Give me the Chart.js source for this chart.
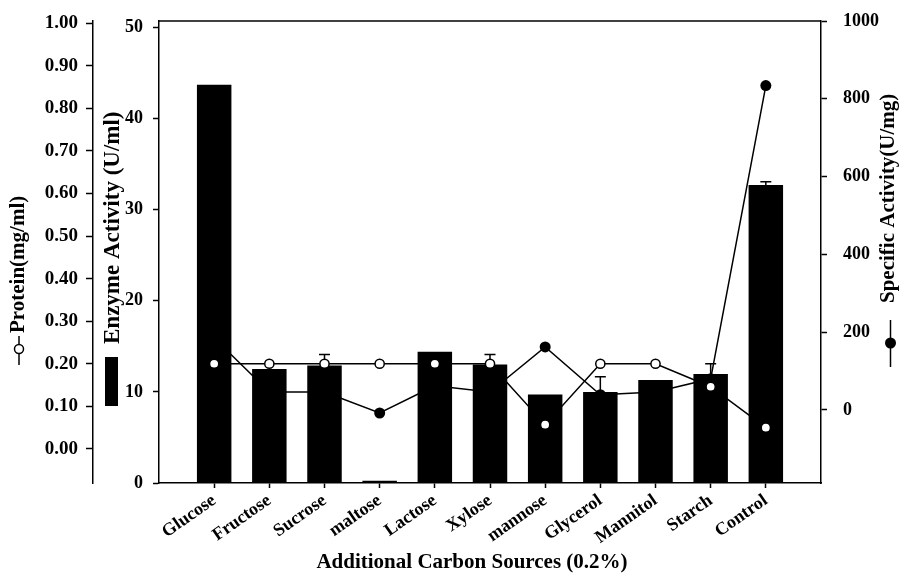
<!DOCTYPE html>
<html>
<head>
<meta charset="utf-8">
<title>Effect of additional carbon sources</title>
<script src="https://cdn.jsdelivr.net/npm/chart.js@4.4.1/dist/chart.umd.min.js"></script>
<style>
  html, body { margin: 0; padding: 0; background: #fff; }
  canvas { display: block; }
</style>
</head>
<body>
<canvas id="chart" width="904" height="576"></canvas>
<script>
// Carbon sources added to the medium at 0.2%
const categories = ['Glucose', 'Fructose', 'Sucrose', 'maltose', 'Lactose', 'Xylose',
                    'mannose', 'Glycerol', 'Mannitol', 'Starch', 'Control'];

// Enzyme activity (U/ml), drawn as bars, with upper error
const enzymeActivity = [43.7, 12.5, 12.9, 0.25, 14.4, 13.0, 9.7, 10.0, 11.3, 11.95, 32.7];
const enzymeError    = [0,    0,    1.2,  0,    0,    1.1,  0,   1.65, 0,    1.15,  0.35];

// Protein (mg/ml), open circles
const protein = [0.20, 0.20, 0.20, 0.20, 0.20, 0.20, 0.057, 0.20, 0.20, 0.146, 0.05];

// Specific activity (U/mg), filled circles
const specificActivity = [185, 46, 46, -8, 62, 46, 162, 39, 46, 80, 834];

// Tick values of the three value axes
const proteinTicks  = [0, 0.1, 0.2, 0.3, 0.4, 0.5, 0.6, 0.7, 0.8, 0.9, 1.0];
const enzymeTicks   = [0, 10, 20, 30, 40, 50];
const specificTicks = [0, 200, 400, 600, 800, 1000];

const SERIF = '"Liberation Serif", "Times New Roman", serif';

// one empty slot on each side of the categories gives the wide side margins
const pad = arr => [null, ...arr, null];
const xLabels = ['', ...categories, ''];

function axisStyle(tickLength, padding, width, fontSize, ticks, format) {
  return {
    grid: { drawOnChartArea: false, drawTicks: true, tickLength: tickLength,
            tickWidth: 1.5, tickColor: '#000' },
    border: { display: true, color: '#000', width: 1.5 },
    ticks: { color: '#000', padding: padding, font: { family: SERIF, size: fontSize, weight: 'bold' },
             callback: format },
    afterBuildTicks: scale => { scale.ticks = ticks.map(v => ({ value: v })); },
    afterFit: scale => {
      scale.width = width;
      scale.paddingTop = 0;
      scale.paddingBottom = 0;
    }
  };
}

const decorations = {
  id: 'decorations',
  beforeDraw(chart) {
    const ctx = chart.ctx;
    ctx.save();
    ctx.fillStyle = '#fff';
    ctx.fillRect(0, 0, chart.width, chart.height);
    ctx.restore();
  },
  afterDatasetDraw(chart, args) {
    if (args.index !== 0) return;
    // error bars above the enzyme activity bars
    const ctx = chart.ctx;
    const yE = chart.scales.yE;
    const bars = chart.getDatasetMeta(0).data;
    ctx.save();
    ctx.strokeStyle = '#000';
    ctx.lineWidth = 1.5;
    enzymeError.forEach((err, i) => {
      if (!err) return;
      const x = bars[i + 1].x;
      const y0 = yE.getPixelForValue(enzymeActivity[i]);
      const y1 = yE.getPixelForValue(enzymeActivity[i] + err);
      ctx.beginPath();
      ctx.moveTo(x, y0); ctx.lineTo(x, y1);
      ctx.moveTo(x - 5.5, y1); ctx.lineTo(x + 5.5, y1);
      ctx.stroke();
    });
    ctx.restore();
  },
  afterDraw(chart) {
    const ctx = chart.ctx;
    const a = chart.chartArea;
    ctx.save();
    ctx.strokeStyle = '#000';
    ctx.fillStyle = '#000';
    ctx.lineWidth = 1.5;

    // top frame line
    ctx.beginPath();
    ctx.moveTo(a.left, a.top);
    ctx.lineTo(a.right, a.top);
    ctx.stroke();

    // vertical axis titles, reading upwards
    const vText = (text, size, x, yStart) => {
      ctx.save();
      ctx.font = 'bold ' + size + 'px ' + SERIF;
      ctx.translate(x, yStart);
      ctx.rotate(-Math.PI / 2);
      ctx.textAlign = 'left';
      ctx.textBaseline = 'middle';
      ctx.fillText(text, 0, 0);
      ctx.restore();
    };
    vText('Protein(mg/ml)', 21, 19, 333);
    vText('Enzyme Activity (U/ml)', 23, 113, 344);
    vText('Specific Activity(U/mg)', 21, 889, 303);

    // series keys under the titles
    ctx.beginPath();
    ctx.moveTo(19, 336); ctx.lineTo(19, 365);
    ctx.stroke();
    ctx.beginPath();
    ctx.arc(19, 349, 4.5, 0, Math.PI * 2);
    ctx.fillStyle = '#fff';
    ctx.fill();
    ctx.stroke();
    ctx.fillStyle = '#000';

    ctx.fillRect(105, 357, 13, 49);

    ctx.beginPath();
    ctx.moveTo(890.5, 320); ctx.lineTo(890.5, 367);
    ctx.stroke();
    ctx.beginPath();
    ctx.arc(890.5, 343, 5.5, 0, Math.PI * 2);
    ctx.fill();

    // category axis title
    ctx.font = 'bold 21px ' + SERIF;
    ctx.textAlign = 'center';
    ctx.textBaseline = 'middle';
    ctx.fillText('Additional Carbon Sources (0.2%)', 472, 563);
    ctx.restore();
  }
};

new Chart(document.getElementById('chart'), {
  data: {
    labels: xLabels,
    datasets: [
      {
        type: 'bar',
        label: 'Enzyme Activity (U/ml)',
        data: pad(enzymeActivity),
        yAxisID: 'yE',
        backgroundColor: '#000',
        borderWidth: 0,
        barPercentage: 0.625,
        categoryPercentage: 1,
        order: 3
      },
      {
        type: 'line',
        label: 'Specific Activity(U/mg)',
        data: pad(specificActivity),
        yAxisID: 'yS',
        borderColor: '#000',
        borderWidth: 1.5,
        pointRadius: 5.5,
        pointBackgroundColor: '#000',
        pointBorderColor: '#000',
        pointBorderWidth: 0,
        tension: 0,
        fill: false,
        order: 2
      },
      {
        type: 'line',
        label: 'Protein(mg/ml)',
        data: pad(protein),
        yAxisID: 'yP',
        borderColor: '#000',
        borderWidth: 1.5,
        pointRadius: 4.6,
        pointBackgroundColor: '#fff',
        pointBorderColor: '#000',
        pointBorderWidth: 1.5,
        tension: 0,
        fill: false,
        order: 1
      }
    ]
  },
  options: {
    responsive: false,
    animation: false,
    devicePixelRatio: 1,
    layout: { padding: { top: 21, left: 0, right: 0, bottom: 0 } },
    plugins: { legend: { display: false }, tooltip: { enabled: false } },
    scales: {
      x: {
        type: 'category',
        offset: false,
        grid: {
          offset: false,
          drawOnChartArea: false, drawTicks: true, tickLength: 5, tickWidth: 1.5,
          tickColor: ctx => (ctx.index === 0 || ctx.index === xLabels.length - 1) ? 'rgba(0,0,0,0)' : '#000'
        },
        border: { display: true, color: '#000', width: 1.5 },
        ticks: {
          color: '#000', autoSkip: false, minRotation: 35, maxRotation: 35, padding: 2,
          font: { family: SERIF, size: 18, weight: 'bold' }
        },
        afterFit: scale => { scale.height = 93; }
      },
      yP: Object.assign({
        type: 'linear', position: 'left', weight: 1, min: -0.08, max: 1.005
      }, axisStyle(7, 8, 93, 19, proteinTicks, v => v.toFixed(2))),
      yE: Object.assign({
        type: 'linear', position: 'left', weight: 0, min: 0, max: 50.7
      }, axisStyle(6, 10, 66, 18, enzymeTicks, v => String(v))),
      yS: Object.assign({
        type: 'linear', position: 'right', min: -188, max: 1000
      }, axisStyle(6, 16, 83, 18, specificTicks, v => String(v)))
    }
  },
  plugins: [decorations]
});
</script>
</body>
</html>
